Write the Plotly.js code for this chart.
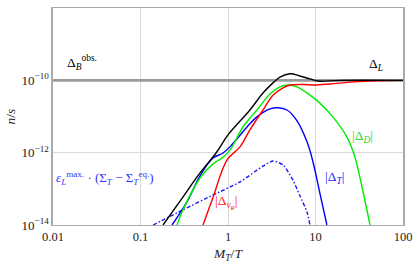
<!DOCTYPE html>
<html><head><meta charset="utf-8">
<script src="https://cdn.plot.ly/plotly-3.0.1.min.js"></script>
<style>html,body{margin:0;padding:0;background:#fff}#c{width:413px;height:265px}</style>
</head><body><div id="c"></div>
<script>
// x values are M_T/T, y values are n/s
const obsX = [0.01, 100];
const obsY = [1e-10, 1e-10];

const lX = [0.181, 0.283, 0.479, 0.73, 1.0, 1.78, 2.51, 3.27, 3.93, 5.12, 6.65, 8.65, 10.7, 19, 100];
const lLog = [-14.0, -13.34, -12.56, -12.01, -11.51, -10.82, -10.35, -10.07, -9.91, -9.82, -9.88, -9.96, -10.02, -10.0, -10.0];

const nuX = [0.518, 0.675, 0.975, 1.37, 1.78, 2.51, 3.27, 4.26, 5.12, 7.2, 9.86, 14.7, 24.8, 42, 100];
const nuLog = [-14.0, -13.23, -12.20, -11.84, -11.37, -10.82, -10.41, -10.21, -10.13, -10.115, -10.13, -10.10, -10.05, -10.02, -10.0];

const dX = [0.261, 0.306, 0.479, 0.675, 0.853, 1.054, 1.48, 2.14, 3.02, 3.93, 4.85, 6.15, 8.65, 11.2, 15.8, 22.9, 28.2, 34.0, 42.0];
const dLog = [-14.0, -13.58, -12.70, -12.31, -12.15, -11.93, -11.29, -10.82, -10.38, -10.18, -10.13, -10.18, -10.41, -10.63, -11.01, -11.57, -12.12, -12.95, -14.0];

const tX = [0.229, 0.34, 0.479, 0.675, 0.877, 1.054, 1.65, 2.14, 3.02, 3.72, 4.72, 6.15, 8.0, 9.35, 11.2, 13.5];
const tLog = [-14.0, -13.36, -12.64, -12.15, -12.01, -11.84, -11.29, -11.01, -10.79, -10.76, -10.82, -11.12, -11.70, -12.25, -13.11, -14.0];

const sX = [0.139, 0.306, 0.675, 1.37, 2.51, 3.27, 4.26, 5.53, 6.65, 8.0, 8.65];
const sLog = [-14.0, -13.58, -13.17, -12.81, -12.37, -12.23, -12.34, -12.76, -13.20, -13.64, -14.0];

const yTicks = [1e-14, 1e-12, 1e-10, 1e-8];
const yTickText = ['10<sup>−14</sup>', '10<sup>−12</sup>', '10<sup>−10</sup>', '10<sup>−8</sup>'];
const xTicks = [0.01, 0.1, 1, 10, 100];
const xTickText = ['0.01', '0.1', '1', '10', '100'];

const pw = a => a.map(v => Math.pow(10, v));
const F = '"Liberation Serif", "DejaVu Serif", serif';

const traces = [
  {x: obsX, y: obsY, mode: 'lines', line: {color: '#9a9a9a', width: 2.6}},
  {x: sX, y: pw(sLog), mode: 'lines', line: {color: '#1a1aff', width: 1.4, dash: '4px,2px,1.5px,2px', shape: 'spline', smoothing: 0.6}},
  {x: tX, y: pw(tLog), mode: 'lines', line: {color: '#0000ff', width: 1.4, shape: 'spline'}},
  {x: dX, y: pw(dLog), mode: 'lines', line: {color: '#00ee00', width: 1.4, shape: 'spline'}},
  {x: nuX, y: pw(nuLog), mode: 'lines', line: {color: '#ff0000', width: 1.4, shape: 'spline'}},
  {x: lX, y: pw(lLog), mode: 'lines', line: {color: '#000000', width: 1.4, shape: 'spline'}}
];

const layout = {
  width: 413, height: 265,
  margin: {l: 53, r: 10, t: 8, b: 40},
  showlegend: false,
  paper_bgcolor: '#fff', plot_bgcolor: '#fff',
  font: {family: F, size: 11, color: '#222'},
  xaxis: {
    type: 'log', range: [-2, 2],
    tickvals: xTicks, ticktext: xTickText, ticks: '', ticklabeloverflow: 'allow',
    showgrid: true, gridcolor: '#d9d9d9', gridwidth: 1,
    showline: true, linecolor: '#aaaaaa', linewidth: 1.2, mirror: true,
    zeroline: false, tickfont: {family: F, size: 12.5, color: '#222'},
    title: {text: '<i>M<sub>T</sub></i>/<i>T</i>', font: {family: F, size: 13.5, color: '#222'}, standoff: 5}
  },
  yaxis: {
    type: 'log', range: [-14, -8],
    tickvals: yTicks, ticktext: yTickText, ticks: '',
    showgrid: true, gridcolor: '#d9d9d9', gridwidth: 1,
    showline: true, linecolor: '#aaaaaa', linewidth: 1.6, mirror: true,
    zeroline: false, tickfont: {family: F, size: 13, color: '#222'},
    title: {text: '<i>n</i>/<i>s</i>', font: {family: F, size: 13.5, color: '#222'}, standoff: 3}
  },
  annotations: [
    {xref: 'paper', yref: 'paper', x: 0.034, y: 0.80, xanchor: 'left', text: 'Δ<sub><i>B</i></sub><sup>obs.</sup>', showarrow: false, font: {family: F, size: 13.5, color: '#000'}},
    {xref: 'paper', yref: 'paper', x: 0.898, y: 0.79, xanchor: 'left', text: 'Δ<sub><i>L</i></sub>', showarrow: false, font: {family: F, size: 13.5, color: '#000'}},
    {xref: 'paper', yref: 'paper', x: 0.849, y: 0.41, xanchor: 'left', text: '|Δ<sub><i>D</i></sub>|', showarrow: false, font: {family: F, size: 13.5, color: '#22dd22'}},
    {xref: 'paper', yref: 'paper', x: 0.771, y: 0.17, xanchor: 'left', text: '|Δ<sub><i>T</i></sub>|', showarrow: false, font: {family: F, size: 13.5, color: '#2222ff'}},
    {xref: 'paper', yref: 'paper', x: 0.457, y: 0.055, xanchor: 'left', text: '|Δ<sub><i>ν<sub>R</sub></i></sub>|', showarrow: false, font: {family: F, size: 13.5, color: '#ff2222'}},
    {xref: 'paper', yref: 'paper', x: 0.003, y: 0.165, xanchor: 'left', text: '<i>ε</i><sub><i>L</i></sub><sup>max.</sup> · (Σ<sub><i>T</i></sub> − Σ<sub><i>T</i></sub><sup>eq.</sup>)', showarrow: false, font: {family: F, size: 13, color: '#3333ff'}}
  ]
};

Plotly.newPlot('c', traces, layout, {displayModeBar: false, staticPlot: true});
</script></body></html>
